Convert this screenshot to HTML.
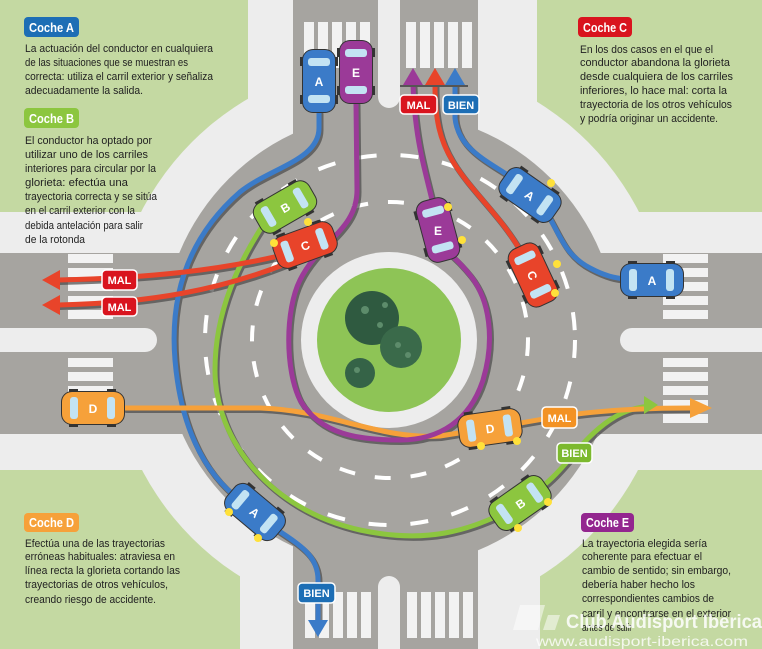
<!DOCTYPE html>
<html><head><meta charset="utf-8"><style>
html,body{margin:0;padding:0;background:#ededed;}
svg{display:block;}
.t{font-family:"Liberation Sans Narrow","Liberation Sans",sans-serif;font-size:11px;fill:#222;}
.h{font-family:"Liberation Sans Narrow","Liberation Sans",sans-serif;font-size:12.5px;font-weight:bold;fill:#fff;}
.l{font-family:"Liberation Sans Narrow","Liberation Sans",sans-serif;font-size:11px;font-weight:bold;fill:#fff;text-anchor:middle;}
.c{font-family:"Liberation Sans",sans-serif;font-size:12px;font-weight:bold;fill:#fff;text-anchor:middle;}
</style></head><body>
<svg width="762" height="649" viewBox="0 0 762 649" xmlns="http://www.w3.org/2000/svg">
<rect width="762" height="649" fill="#ededed"/>
<rect x="0" y="0" width="248" height="212" fill="#c4d9a2"/>
<rect x="537" y="0" width="225" height="212" fill="#c4d9a2"/>
<rect x="0" y="470" width="240" height="179" fill="#c4d9a2"/>
<rect x="540" y="470" width="222" height="179" fill="#c4d9a2"/>
<circle cx="390" cy="340" r="280" fill="#ededed"/>
<g fill="#a6a4a0">
<rect x="293" y="0" width="185" height="649"/>
<rect x="0" y="253" width="762" height="181"/>
<circle cx="390" cy="340" r="228"/>
</g>
<g fill="#ededed">
<rect x="378" y="-20" width="22" height="128" rx="11"/>
<rect x="378" y="576" width="22" height="100" rx="11"/>
<rect x="-20" y="328" width="177" height="24" rx="12"/>
<rect x="620" y="328" width="162" height="24" rx="12"/>
</g>
<g fill="#f2f2f2">
<rect x="304" y="22" width="10" height="46"/><rect x="318" y="22" width="10" height="46"/><rect x="332" y="22" width="10" height="46"/><rect x="346" y="22" width="10" height="46"/><rect x="360" y="22" width="10" height="46"/>
<rect x="406" y="22" width="10" height="46"/><rect x="420" y="22" width="10" height="46"/><rect x="434" y="22" width="10" height="46"/><rect x="448" y="22" width="10" height="46"/><rect x="462" y="22" width="10" height="46"/>
<rect x="305" y="592" width="10" height="46"/><rect x="319" y="592" width="10" height="46"/><rect x="333" y="592" width="10" height="46"/><rect x="347" y="592" width="10" height="46"/><rect x="361" y="592" width="10" height="46"/>
<rect x="407" y="592" width="10" height="46"/><rect x="421" y="592" width="10" height="46"/><rect x="435" y="592" width="10" height="46"/><rect x="449" y="592" width="10" height="46"/><rect x="463" y="592" width="10" height="46"/>
<rect x="68" y="254" width="45" height="9"/><rect x="68" y="268" width="45" height="9"/><rect x="68" y="282" width="45" height="9"/><rect x="68" y="296" width="45" height="9"/><rect x="68" y="310" width="45" height="9"/>
<rect x="68" y="358" width="45" height="9"/><rect x="68" y="372" width="45" height="9"/><rect x="68" y="386" width="45" height="9"/><rect x="68" y="400" width="45" height="9"/><rect x="68" y="414" width="45" height="9"/>
<rect x="663" y="254" width="45" height="9"/><rect x="663" y="268" width="45" height="9"/><rect x="663" y="282" width="45" height="9"/><rect x="663" y="296" width="45" height="9"/><rect x="663" y="310" width="45" height="9"/>
<rect x="663" y="358" width="45" height="9"/><rect x="663" y="372" width="45" height="9"/><rect x="663" y="386" width="45" height="9"/><rect x="663" y="400" width="45" height="9"/><rect x="663" y="414" width="45" height="9"/>
</g>
<circle cx="390" cy="340" r="185" fill="none" stroke="#fff" stroke-width="4" stroke-dasharray="18 24"/>
<circle cx="390" cy="340" r="138" fill="none" stroke="#fff" stroke-width="4" stroke-dasharray="16 20"/>
<circle cx="389" cy="340" r="88" fill="#ededed"/>
<circle cx="389" cy="340" r="72" fill="#8ec456"/>
<g>
<circle cx="372" cy="318" r="27" fill="#2f5a40"/>
<circle cx="401" cy="347" r="21" fill="#3a6a4a"/>
<circle cx="360" cy="373" r="15" fill="#356347"/>
<circle cx="365" cy="310" r="4" fill="#5d8c6b"/><circle cx="380" cy="325" r="3" fill="#5d8c6b"/><circle cx="398" cy="345" r="3" fill="#5d8c6b"/><circle cx="408" cy="355" r="3" fill="#5d8c6b"/><circle cx="357" cy="370" r="3" fill="#5d8c6b"/><circle cx="385" cy="305" r="3" fill="#5d8c6b"/>
</g>
<g fill="none" stroke="#4a4a4a" stroke-width="6" stroke-linecap="round" opacity="0.7" transform="translate(1.5,2)">
<path d="M319,112 L319,128 C319,160 270,168 240,192 C185,240 170,300 175,360 C180,420 200,470 240,500"/>
<path d="M270,525 C300,545 318,555 318,580 L318,620"/>
<path d="M455,85 L455,118 C458,150 490,162 515,180"/>
<path d="M548,215 C560,235 565,255 590,268 C605,276 615,278 625,279"/>
<path d="M265,222 C240,260 215,310 215,370 C215,440 270,510 360,530 C430,545 470,528 500,515"/>
<path d="M540,488 C565,470 580,440 610,420 C625,410 638,407 650,406"/>
<path d="M283,255 C220,270 150,278 58,280"/>
<path d="M288,263 C220,290 150,303 58,305"/>
<path d="M520,250 C500,215 470,190 452,160 C440,140 435,120 435,85"/>
<path d="M125,408 L260,408 C330,410 380,440 440,436 L465,432"/>
<path d="M515,424 C560,416 600,408 692,408"/>
<path d="M356,103 L357,190 C357,230 320,240 300,280 C285,310 285,370 300,400 C320,435 360,440 400,440 C440,440 470,420 483,380 C495,340 490,300 470,275 C458,260 448,252 443,248"/>
<path d="M432,200 C425,170 415,140 413,85"/>
</g>
<g fill="none" stroke-width="5" stroke-linecap="round">
<path stroke="#3b7bc8" d="M319,112 L319,128 C319,160 270,168 240,192 C185,240 170,300 175,360 C180,420 200,470 240,500"/>
<path stroke="#3b7bc8" d="M270,525 C300,545 318,555 318,580 L318,620"/>
<path stroke="#3b7bc8" d="M455,85 L455,118 C458,150 490,162 515,180"/>
<path stroke="#3b7bc8" d="M548,215 C560,235 565,255 590,268 C605,276 615,278 625,279"/>
<path stroke="#8cc63f" d="M265,222 C240,260 215,310 215,370 C215,440 270,510 360,530 C430,545 470,528 500,515"/>
<path stroke="#8cc63f" d="M540,488 C565,470 580,440 610,420 C625,410 638,407 650,406"/>
<path stroke="#e8442a" d="M283,255 C220,270 150,278 58,280"/>
<path stroke="#e8442a" d="M288,263 C220,290 150,303 58,305"/>
<path stroke="#e8442a" d="M520,250 C500,215 470,190 452,160 C440,140 435,120 435,85"/>
<path stroke="#f6a13a" d="M125,408 L260,408 C330,410 380,440 440,436 L465,432"/>
<path stroke="#f6a13a" d="M515,424 C560,416 600,408 692,408"/>
<path stroke="#9b3a98" d="M356,103 L357,190 C357,230 320,240 300,280 C285,310 285,370 300,400 C320,435 360,440 400,440 C440,440 470,420 483,380 C495,340 490,300 470,275 C458,260 448,252 443,248"/>
<path stroke="#9b3a98" d="M432,200 C425,170 415,140 413,85"/>
</g>
<polygon points="403,85 413,68 423,85" fill="#9b3a98"/>
<polygon points="425,85 435,68 445,85" fill="#e8442a"/>
<polygon points="445,85 455,68 465,85" fill="#3b7bc8"/>
<line x1="400" y1="86" x2="468" y2="86" stroke="#555" stroke-width="2"/>
<polygon points="308,620 318,637 328,620" fill="#3b7bc8"/>
<polygon points="60,270 42,280 60,290" fill="#e8442a"/>
<polygon points="60,295 42,305 60,315" fill="#e8442a"/>
<polygon points="690,398 712,408 690,418" fill="#f6a13a"/>
<polygon points="644,396 658,405 644,414" fill="#8cc63f"/>
<defs>
<g id="car">
<rect x="-32" y="-17" width="64" height="34" rx="11" fill="#333"/>
<rect x="-24" y="-19" width="9" height="4" fill="#333"/><rect x="14" y="-19" width="9" height="4" fill="#333"/>
<rect x="-24" y="15" width="9" height="4" fill="#333"/><rect x="14" y="15" width="9" height="4" fill="#333"/>
</g>
<g id="win">
<rect x="-23" y="-11" width="8" height="22" rx="3" fill="#c3e3f3"/>
<rect x="14" y="-11" width="8" height="22" rx="3" fill="#c3e3f3"/>
</g>
</defs>
<g transform="translate(319,81) rotate(90)"><use href="#car"/><rect x="-31" y="-16" width="62" height="32" rx="10" fill="#3b7bc8"/><use href="#win"/></g>
<text x="319" y="86" class="c">A</text>
<g transform="translate(356,72) rotate(90)"><use href="#car"/><rect x="-31" y="-16" width="62" height="32" rx="10" fill="#9b3a98"/><use href="#win"/></g>
<text x="356" y="77" class="c">E</text>
<g transform="translate(285,207) rotate(-30)"><use href="#car"/><rect x="-31" y="-16" width="62" height="32" rx="10" fill="#8cc63f"/><use href="#win"/><text x="0" y="5" class="c">B</text></g>
<g transform="translate(305,245) rotate(-20)"><use href="#car"/><rect x="-31" y="-16" width="62" height="32" rx="10" fill="#e8442a"/><use href="#win"/><text x="0" y="5" class="c">C</text></g>
<g transform="translate(438,230) rotate(75)"><use href="#car"/><rect x="-31" y="-16" width="62" height="32" rx="10" fill="#9b3a98"/><use href="#win"/></g>
<text x="438" y="235" class="c">E</text>
<g transform="translate(530,195) rotate(35)"><use href="#car"/><rect x="-31" y="-16" width="62" height="32" rx="10" fill="#3b7bc8"/><use href="#win"/><text x="0" y="5" class="c">A</text></g>
<g transform="translate(533,275) rotate(65)"><use href="#car"/><rect x="-31" y="-16" width="62" height="32" rx="10" fill="#e8442a"/><use href="#win"/><text x="0" y="5" class="c">C</text></g>
<g transform="translate(652,280)"><use href="#car"/><rect x="-31" y="-16" width="62" height="32" rx="10" fill="#3b7bc8"/><use href="#win"/><text x="0" y="5" class="c">A</text></g>
<g transform="translate(93,408)"><use href="#car"/><rect x="-31" y="-16" width="62" height="32" rx="10" fill="#f6a13a"/><use href="#win"/><text x="0" y="5" class="c">D</text></g>
<g transform="translate(490,428) rotate(-8)"><use href="#car"/><rect x="-31" y="-16" width="62" height="32" rx="10" fill="#f6a13a"/><use href="#win"/><text x="0" y="5" class="c">D</text></g>
<g transform="translate(255,512) rotate(40)"><use href="#car"/><rect x="-31" y="-16" width="62" height="32" rx="10" fill="#3b7bc8"/><use href="#win"/><text x="0" y="5" class="c">A</text></g>
<g transform="translate(520,503) rotate(-35)"><use href="#car"/><rect x="-31" y="-16" width="62" height="32" rx="10" fill="#8cc63f"/><use href="#win"/><text x="0" y="5" class="c">B</text></g>
<g fill="#ffe13a">
<circle cx="308" cy="222" r="4"/><circle cx="274" cy="243" r="4"/><circle cx="462" cy="240" r="4"/><circle cx="448" cy="207" r="4"/><circle cx="551" cy="183" r="4"/><circle cx="557" cy="264" r="4"/><circle cx="555" cy="293" r="4"/><circle cx="517" cy="441" r="4"/><circle cx="481" cy="446" r="4"/><circle cx="229" cy="512" r="4"/><circle cx="258" cy="538" r="4"/><circle cx="548" cy="502" r="4"/><circle cx="518" cy="528" r="4"/>
</g>
<g stroke="#fff" stroke-width="1.5">
<rect x="400" y="95" width="37" height="19" rx="4" fill="#d9141e"/>
<rect x="443" y="95" width="36" height="19" rx="4" fill="#1d6eb5"/>
<rect x="102" y="270" width="35" height="20" rx="4" fill="#d9141e"/>
<rect x="102" y="297" width="35" height="19" rx="4" fill="#d9141e"/>
<rect x="542" y="407" width="35" height="21" rx="4" fill="#f39223"/>
<rect x="557" y="443" width="35" height="20" rx="4" fill="#7cb92e"/>
<rect x="298" y="583" width="37" height="20" rx="4" fill="#1d6eb5"/>
</g>
<text x="418.5" y="109" class="l">MAL</text>
<text x="461" y="109" class="l">BIEN</text>
<text x="119.5" y="284" class="l">MAL</text>
<text x="119.5" y="311" class="l">MAL</text>
<text x="559.5" y="422" class="l">MAL</text>
<text x="574.5" y="457" class="l">BIEN</text>
<text x="316.5" y="597" class="l">BIEN</text>
<rect x="24" y="17" width="55" height="20" rx="4" fill="#1d6eb5"/><text x="29" y="32" class="h" textLength="45" lengthAdjust="spacingAndGlyphs">Coche A</text>
<text class="t" x="25" y="52" textLength="188" lengthAdjust="spacingAndGlyphs">La actuación del conductor en cualquiera</text>
<text class="t" x="25" y="66" textLength="163" lengthAdjust="spacingAndGlyphs">de las situaciones que se muestran es</text>
<text class="t" x="25" y="80" textLength="188" lengthAdjust="spacingAndGlyphs">correcta: utiliza el carril exterior y señaliza</text>
<text class="t" x="25" y="94" textLength="118" lengthAdjust="spacingAndGlyphs">adecuadamente la salida.</text>
<rect x="24" y="108" width="55" height="20" rx="4" fill="#8cc63f"/><text x="29" y="123" class="h" textLength="45" lengthAdjust="spacingAndGlyphs">Coche B</text>
<text class="t" x="25" y="144" textLength="127" lengthAdjust="spacingAndGlyphs">El conductor ha optado por</text>
<text class="t" x="25" y="158" textLength="123" lengthAdjust="spacingAndGlyphs">utilizar uno de los carriles</text>
<text class="t" x="25" y="172" textLength="131" lengthAdjust="spacingAndGlyphs">interiores para circular por la</text>
<text class="t" x="25" y="186" textLength="103" lengthAdjust="spacingAndGlyphs">glorieta: efectúa una</text>
<text class="t" x="25" y="200" textLength="132" lengthAdjust="spacingAndGlyphs">trayectoria correcta y se sitúa</text>
<text class="t" x="25" y="214" textLength="110" lengthAdjust="spacingAndGlyphs">en el carril exterior con la</text>
<text class="t" x="25" y="229" textLength="118" lengthAdjust="spacingAndGlyphs">debida antelación para salir</text>
<text class="t" x="25" y="243" textLength="60" lengthAdjust="spacingAndGlyphs">de la rotonda</text>
<rect x="578" y="17" width="54" height="20" rx="4" fill="#d9141e"/><text x="583" y="32" class="h" textLength="44" lengthAdjust="spacingAndGlyphs">Coche C</text>
<text class="t" x="580" y="53" textLength="133" lengthAdjust="spacingAndGlyphs">En los dos casos en el que el</text>
<text class="t" x="580" y="66" textLength="150" lengthAdjust="spacingAndGlyphs">conductor abandona la glorieta</text>
<text class="t" x="580" y="80" textLength="153" lengthAdjust="spacingAndGlyphs">desde cualquiera de los carriles</text>
<text class="t" x="580" y="94" textLength="147" lengthAdjust="spacingAndGlyphs">inferiores, lo hace mal: corta la</text>
<text class="t" x="580" y="108" textLength="152" lengthAdjust="spacingAndGlyphs">trayectoria de los otros vehículos</text>
<text class="t" x="580" y="122" textLength="138" lengthAdjust="spacingAndGlyphs">y podría originar un accidente.</text>
<rect x="24" y="513" width="55" height="19" rx="4" fill="#f6a13a"/><text x="29" y="527" class="h" textLength="45" lengthAdjust="spacingAndGlyphs">Coche D</text>
<text class="t" x="25" y="547" textLength="140" lengthAdjust="spacingAndGlyphs">Efectúa una de las trayectorias</text>
<text class="t" x="25" y="560" textLength="150" lengthAdjust="spacingAndGlyphs">erróneas habituales: atraviesa en</text>
<text class="t" x="25" y="574" textLength="155" lengthAdjust="spacingAndGlyphs">línea recta la glorieta cortando las</text>
<text class="t" x="25" y="588" textLength="143" lengthAdjust="spacingAndGlyphs">trayectorias de otros vehículos,</text>
<text class="t" x="25" y="603" textLength="131" lengthAdjust="spacingAndGlyphs">creando riesgo de accidente.</text>
<rect x="581" y="513" width="53" height="19" rx="4" fill="#93268f"/><text x="586" y="527" class="h" textLength="43" lengthAdjust="spacingAndGlyphs">Coche E</text>
<text class="t" x="582" y="547" textLength="125" lengthAdjust="spacingAndGlyphs">La trayectoria elegida sería</text>
<text class="t" x="582" y="560" textLength="120" lengthAdjust="spacingAndGlyphs">coherente para efectuar el</text>
<text class="t" x="582" y="574" textLength="149" lengthAdjust="spacingAndGlyphs">cambio de sentido; sin embargo,</text>
<text class="t" x="582" y="588" textLength="113" lengthAdjust="spacingAndGlyphs">debería haber hecho los</text>
<text class="t" x="582" y="602" textLength="132" lengthAdjust="spacingAndGlyphs">correspondientes cambios de</text>
<text class="t" x="582" y="617" textLength="149" lengthAdjust="spacingAndGlyphs">carril y encontrarse en el exterior</text>
<text class="t" x="582" y="631" textLength="50" lengthAdjust="spacingAndGlyphs">antes de salir</text>
<polygon points="520,605 545,605 538,630 513,630" fill="#ffffff" opacity="0.5"/>
<polygon points="548,615 560,615 555,630 543,630" fill="#ffffff" opacity="0.5"/>
<text x="566" y="628" font-family="Liberation Sans, sans-serif" font-size="19" font-weight="bold" fill="#ffffff" opacity="0.85" textLength="196" lengthAdjust="spacingAndGlyphs">Club Audisport Iberica</text>
<text x="536" y="646" font-family="Liberation Sans, sans-serif" font-size="14" fill="#ffffff" opacity="0.8" textLength="212" lengthAdjust="spacingAndGlyphs">www.audisport-iberica.com</text>
</svg>
</body></html>
